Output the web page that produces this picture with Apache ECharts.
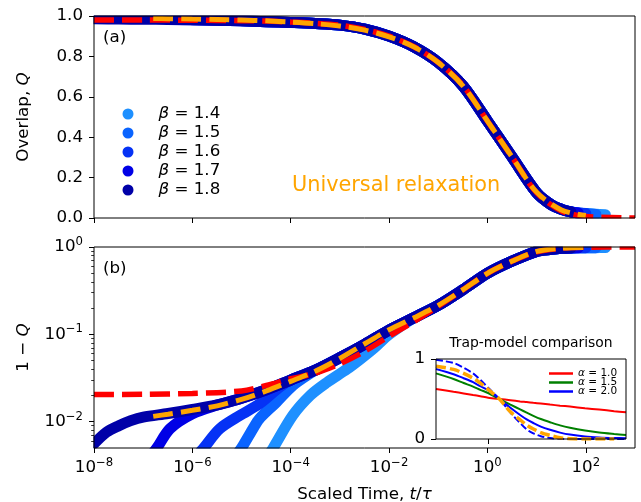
<!DOCTYPE html>
<html>
<head>
<meta charset="utf-8">
<script src="https://cdn.jsdelivr.net/npm/echarts@6/dist/echarts.min.js"></script>
<style>
  html, body { margin: 0; padding: 0; background: #fff; }
  #main { width: 641px; height: 502px; }
</style>
</head>
<body>
<div id="main"></div>
<script>
// ---- data ----
var betaNames = ['β = 1.4', 'β = 1.5', 'β = 1.6', 'β = 1.7', 'β = 1.8'];
var betaColors = ['#1e90ff', '#0a64ff', '#0532f5', '#0000e6', '#0000a8'];

// panel (a): overlap Q, all beta collapse onto one band
var tTop = [1e-8, 3.2e-8, 1e-7, 3.2e-7, 1e-6, 3.2e-6, 1e-5, 3.2e-5, 1e-4, 3.2e-4, 1e-3, 3.2e-3, 1e-2, 3.2e-2, 0.1, 0.32, 1, 3.2, 10, 20, 32, 50, 70, 100, 160, 250];
var qTop = [0.986, 0.985, 0.984, 0.983, 0.981, 0.979, 0.976, 0.972, 0.968, 0.963, 0.955, 0.935, 0.900, 0.847, 0.770, 0.653, 0.480, 0.300, 0.125, 0.065, 0.043, 0.030, 0.025, 0.022, 0.018, 0.016];
var topStart = [1e-4, 1e-5, 1e-6, 3.2e-7, 1e-8];
var betaEnd = [250, 160, 100, 70, 50]; // last time of each beta run

// red dashed reference
var tRed = [1e-8, 1e-7, 1e-6, 1e-5, 3.2e-5, 1e-4, 3.2e-4, 1e-3, 3.2e-3, 1e-2, 3.2e-2, 0.1, 0.32, 1, 3.2, 10, 32, 100, 1000];
var qRed = [0.980, 0.980, 0.979, 0.977, 0.975, 0.970, 0.964, 0.954, 0.933, 0.900, 0.848, 0.770, 0.655, 0.480, 0.300, 0.125, 0.035, 0.008, 0.0];
var redBot = [0.0205, 0.0206, 0.0211, 0.0225, 0.026, 0.031, 0.036, 0.046, 0.064, 0.095, 0.140, 0.210, 0.325, 0.500, 0.690, 0.880, 0.970, 0.995, 1.0];

// orange dashed universal curve
var tOrange = [1.6e-7, 3.2e-7, 1e-6, 3.2e-6, 1e-5, 3.2e-5, 1e-4, 3.2e-4, 1e-3, 3.2e-3, 1e-2, 3.2e-2, 0.1, 0.32, 1, 3.2, 10, 32, 100];
var qOrange = [0.988, 0.987, 0.985, 0.983, 0.980, 0.976, 0.970, 0.962, 0.950, 0.930, 0.897, 0.847, 0.770, 0.653, 0.480, 0.300, 0.128, 0.040, 0.012];
var orangeBot = [0.0115, 0.0122, 0.0135, 0.0152, 0.0180, 0.0225, 0.029, 0.038, 0.053, 0.078, 0.113, 0.155, 0.215, 0.325, 0.50, 0.69, 0.89, 0.97, 0.99];

// panel (b): 1 - Q, shared tail (beta = 1.8 from the start)
var tBot = [1e-8, 1.8e-8, 3.2e-8, 5.6e-8, 1e-7, 3.2e-7, 1e-6, 3.2e-6, 1e-5, 3.2e-5, 1e-4, 3.2e-4, 1e-3, 3.2e-3, 1e-2, 3.2e-2, 0.1, 0.32, 1, 3.2, 10, 20, 32, 50, 70, 100, 160, 250];
var mBot = [0.0056, 0.0076, 0.0090, 0.0103, 0.0113, 0.0124, 0.0138, 0.0156, 0.0186, 0.0232, 0.030, 0.039, 0.054, 0.077, 0.112, 0.155, 0.215, 0.325, 0.50, 0.69, 0.89, 0.94, 0.965, 0.975, 0.978, 0.98, 0.983, 0.985];

// early rising branches before each beta joins the tail
var riseT = [
  [3.6e-5, 4.4e-5, 1.1e-4, 2.5e-4, 5.4e-4, 1.4e-3, 2.6e-3, 5e-3, 1e-2],
  [8e-6, 1e-5, 1.7e-5, 2.3e-5, 5.1e-5, 1.1e-4, 2.5e-4],
  [1.3e-6, 1.7e-6, 3.6e-6, 9.3e-6, 2.3e-5, 6e-5],
  [1.5e-7, 1.9e-7, 3.5e-7, 1e-6, 3.2e-6],
  []
];
var riseV = [
  [0.0042, 0.005, 0.0118, 0.020, 0.028, 0.040, 0.052, 0.070, 0.100],
  [0.0042, 0.005, 0.0083, 0.0108, 0.0167, 0.026, 0.036],
  [0.0042, 0.005, 0.0083, 0.0118, 0.016, 0.025],
  [0.0042, 0.005, 0.0083, 0.0123, 0.0155],
  []
];

// inset: trap-model comparison
var insetX = [0.29, 0.44, 0.56, 0.7, 0.83, 1.0, 1.31, 1.7, 2.14, 2.5, 2.93, 3.5, 4.36, 5.53, 7.0, 10, 14, 20, 26.5];
var trapA10 = [0.625, 0.59, 0.57, 0.55, 0.535, 0.517, 0.5, 0.485, 0.47, 0.462, 0.453, 0.443, 0.43, 0.417, 0.405, 0.385, 0.368, 0.348, 0.333];
var trapA15 = [0.82, 0.75, 0.70, 0.655, 0.615, 0.575, 0.5, 0.43, 0.37, 0.33, 0.29, 0.25, 0.21, 0.17, 0.14, 0.105, 0.08, 0.062, 0.05];
var trapA20 = [0.875, 0.81, 0.76, 0.71, 0.66, 0.61, 0.5, 0.39, 0.30, 0.245, 0.20, 0.155, 0.115, 0.08, 0.055, 0.032, 0.02, 0.013, 0.01];
var gaussRef = [0.99, 0.95, 0.89, 0.82, 0.74, 0.64, 0.5, 0.33, 0.2, 0.12, 0.07, 0.035, 0.012, 0.003, 0, 0, 0, 0, 0];
var dataRef = [0.91, 0.87, 0.82, 0.76, 0.70, 0.62, 0.5, 0.34, 0.24, 0.175, 0.125, 0.08, 0.045, 0.015, 0.003, 0, 0, 0, null];
var alphaNames = ['α = 1.0', 'α = 1.5', 'α = 2.0'];

var xTicks = [1e-8, 1e-6, 1e-4, 1e-2, 1, 1e2];
var yTicksLog = [0.01, 0.1, 1];
var yMinorLog = [0.006, 0.007, 0.008, 0.009, 0.02, 0.03, 0.04, 0.05, 0.06, 0.07, 0.08, 0.09,
                 0.2, 0.3, 0.4, 0.5, 0.6, 0.7, 0.8, 0.9];

// ---- helpers ----
var FONT = 'DejaVu Sans';
var W = 641, H = 502;
var panelA = { x: 94, y: 16, w: 541, h: 202 };
var panelB = { x: 94, y: 247, w: 541, h: 201 };
var inset = { x: 436, y: 359, w: 190, h: 80 };

function zip(xs, ys) {
  var out = [];
  for (var i = 0; i < xs.length; i++) out.push([xs[i], ys[i]]);
  return out;
}
function powLabel(v) {
  var e = Math.round(Math.log10(v));
  return '{b|10}{s|' + String(e).replace('-', '\u2212') + '}';
}
var powRich = {
  b: { fontSize: 16.7, lineHeight: 22, fontFamily: FONT, color: '#000' },
  s: { fontSize: 11.7, lineHeight: 12, verticalAlign: 'top', fontFamily: FONT, color: '#000' }
};
var italicRich = { i: { fontStyle: 'italic', fontSize: 16.7, fontFamily: FONT, color: '#000' } };
var tick = { show: true, length: 5, lineStyle: { color: '#000', width: 1 } };

// white masks around the panels: echarts widens its clip box by half the line width
function mask(x, y, w, h) {
  return { type: 'rect', z: 8, silent: true, shape: { x: x, y: y, width: w, height: h }, style: { fill: '#fff' } };
}
function frame(p, z) {
  return { type: 'rect', z: z, silent: true, shape: { x: p.x, y: p.y, width: p.w, height: p.h },
           style: { fill: 'none', stroke: '#000', lineWidth: 1 } };
}

var series = [];
betaNames.forEach(function (name, b) {
  var top = zip(tTop, qTop).filter(function (p) { return p[0] >= topStart[b] && p[0] <= betaEnd[b]; });
  series.push({
    name: name, type: 'line', xAxisIndex: 0, yAxisIndex: 0, data: top,
    showSymbol: false, smooth: 0.3, color: betaColors[b],
    lineStyle: { width: 11, color: betaColors[b], cap: 'round', join: 'round' }
  });
  var early = zip(riseT[b], riseV[b]);
  var last = riseT[b].length ? riseT[b][riseT[b].length - 1] : 0;
  var tail = zip(tBot, mBot).filter(function (p) { return p[0] > last && p[0] <= betaEnd[b]; });
  series.push({
    name: name, type: 'line', xAxisIndex: 1, yAxisIndex: 1, data: early.concat(tail),
    showSymbol: false, smooth: 0.3, color: betaColors[b],
    lineStyle: { width: 11, color: betaColors[b], cap: 'round', join: 'round' }
  });
});
var redStyle = { width: 5.5, color: '#ff0000', type: [20, 8] };
var orangeStyle = { width: 5, color: '#ffa500', type: [20, 8] };
series.push(
  { name: 'fit', type: 'line', xAxisIndex: 0, yAxisIndex: 0, data: zip(tRed, qRed), showSymbol: false, smooth: 0.3, lineStyle: redStyle, z: 3 },
  { name: 'fit', type: 'line', xAxisIndex: 1, yAxisIndex: 1, data: zip(tRed, redBot), showSymbol: false, smooth: 0.3, lineStyle: redStyle, z: 3 },
  { name: 'universal', type: 'line', xAxisIndex: 0, yAxisIndex: 0, data: zip(tOrange, qOrange), showSymbol: false, smooth: 0.3, lineStyle: orangeStyle, z: 4 },
  { name: 'universal', type: 'line', xAxisIndex: 1, yAxisIndex: 1, data: zip(tOrange, orangeBot), showSymbol: false, smooth: 0.3, lineStyle: orangeStyle, z: 4 }
);
var insetColors = ['#ff0000', '#008000', '#0000ff'];
[trapA10, trapA15, trapA20].forEach(function (ys, k) {
  series.push({
    name: alphaNames[k], type: 'line', xAxisIndex: 2, yAxisIndex: 3, data: zip(insetX, ys),
    showSymbol: false, smooth: 0.3, color: insetColors[k], z: 12,
    lineStyle: { width: 2, color: insetColors[k] }
  });
});
series.push(
  { name: 'inset-gauss', type: 'line', xAxisIndex: 2, yAxisIndex: 3, data: zip(insetX, gaussRef), showSymbol: false, smooth: 0.3, z: 12,
    lineStyle: { width: 2, color: '#0000ff', type: [7, 3] } },
  { name: 'inset-data', type: 'line', xAxisIndex: 2, yAxisIndex: 3, data: zip(insetX, dataRef), showSymbol: false, smooth: 0.3, z: 12,
    lineStyle: { width: 3.5, color: '#ffa500', type: [10, 4] } }
);

var myChart = echarts.init(document.getElementById('main'), null, { renderer: 'canvas' });
var option = {
  animation: false,
  backgroundColor: '#fff',
  textStyle: { fontFamily: FONT },
  grid: [
    { left: panelA.x, top: panelA.y, width: panelA.w, height: panelA.h, show: false, outerBoundsMode: 'none' },
    { left: panelB.x, top: panelB.y, width: panelB.w, height: panelB.h, show: false, outerBoundsMode: 'none' },
    { left: inset.x, top: inset.y, width: inset.w, height: inset.h, show: true, borderWidth: 0, backgroundColor: '#fff', z: 10, outerBoundsMode: 'none' }
  ],
  xAxis: [
    { gridIndex: 0, type: 'log', min: 1e-8, max: 1e3, z: 10, axisLine: { show: false },
      axisTick: Object.assign({ customValues: xTicks }, tick), axisLabel: { show: false }, splitLine: { show: false } },
    { gridIndex: 1, type: 'log', min: 1e-8, max: 1e3, z: 10, axisLine: { show: false },
      axisTick: Object.assign({ customValues: xTicks }, tick),
      axisLabel: { customValues: xTicks, formatter: powLabel, rich: powRich, margin: 9 },
      splitLine: { show: false },
      name: 'Scaled Time, {i|t}/{i|τ}', nameLocation: 'middle', nameGap: 38,
      nameTextStyle: { fontSize: 16.7, color: '#000', fontFamily: FONT, rich: italicRich } },
    { gridIndex: 2, type: 'log', min: 0.29, max: 26.5, axisLine: { show: false }, z: 12,
      axisTick: Object.assign({ customValues: [1, 10] }, tick), axisLabel: { show: false }, splitLine: { show: false } }
  ],
  yAxis: [
    { gridIndex: 0, type: 'value', min: 0, max: 1, interval: 0.2, z: 10, axisLine: { show: false }, axisTick: tick,
      axisLabel: { fontSize: 16.7, color: '#000', margin: 11, formatter: function (v) { return v.toFixed(1); } },
      splitLine: { show: false },
      name: 'Overlap, {i|Q}', nameLocation: 'middle', nameGap: 62, nameRotate: 90,
      nameTextStyle: { fontSize: 16.7, color: '#000', fontFamily: FONT, rich: italicRich } },
    { gridIndex: 1, type: 'log', min: 0.005, max: 1, z: 10, axisLine: { show: false },
      axisTick: Object.assign({ customValues: yTicksLog }, tick),
      axisLabel: { customValues: yTicksLog, formatter: powLabel, rich: powRich, margin: 11 },
      splitLine: { show: false },
      name: '1 \u2212 {i|Q}', nameLocation: 'middle', nameGap: 62, nameRotate: 90,
      nameTextStyle: { fontSize: 16.7, color: '#000', fontFamily: FONT, rich: italicRich } },
    { gridIndex: 1, type: 'log', min: 0.005, max: 1, z: 10, position: 'left', axisLine: { show: false },
      axisTick: { show: true, customValues: yMinorLog, length: 2.8, lineStyle: { color: '#000', width: 0.8 } },
      axisLabel: { show: false }, splitLine: { show: false } },
    { gridIndex: 2, type: 'value', min: 0, max: 1, interval: 1, axisLine: { show: false }, axisTick: tick, z: 12,
      axisLabel: { fontSize: 16.7, color: '#000', margin: 11 }, splitLine: { show: false } }
  ],
  legend: [
    { data: betaNames.map(function (n) { return { name: n, icon: 'circle' }; }),
      orient: 'vertical', left: 122.5, top: 105.5, padding: 0, itemWidth: 11, itemHeight: 11, itemGap: 2,
      selectedMode: false,
      formatter: function (n) { return '{i|β}' + n.slice(1); },
      textStyle: { fontSize: 16.7, color: '#000', lineHeight: 14, padding: [0, 0, 0, 20], fontFamily: FONT,
        rich: { i: { fontStyle: 'italic', fontSize: 16.7, lineHeight: 14, fontFamily: FONT, color: '#000' } } } },
    { data: alphaNames.map(function (n) { return { name: n, icon: 'rect' }; }),
      orient: 'vertical', left: 549, top: 368, padding: 0, itemWidth: 24, itemHeight: 2.5, itemGap: -2,
      selectedMode: false, z: 14,
      formatter: function (n) { return '{i|α}' + n.slice(1); },
      textStyle: { fontSize: 10.5, color: '#000', lineHeight: 8, fontFamily: FONT,
        rich: { i: { fontStyle: 'italic', fontSize: 10.5, lineHeight: 8, fontFamily: FONT, color: '#000' } } } }
  ],
  graphic: [
    mask(0, 0, W, panelA.y - 0.5),
    mask(0, 0, panelA.x - 0.5, H),
    mask(panelA.x + panelA.w + 0.5, 0, W, H),
    mask(0, panelA.y + panelA.h + 0.5, W, panelB.y - panelA.y - panelA.h - 1),
    mask(0, panelB.y + panelB.h + 0.5, W, H),
    frame(panelA, 9),
    frame(panelB, 9),
    frame(inset, 13),
    { type: 'text', x: 103, y: 38, z: 20, style: { text: '(a)', font: '16.7px "DejaVu Sans"', fill: '#000', verticalAlign: 'middle' } },
    { type: 'text', x: 103, y: 269, z: 20, style: { text: '(b)', font: '16.7px "DejaVu Sans"', fill: '#000', verticalAlign: 'middle' } },
    { type: 'text', x: 292, y: 186, z: 20, style: { text: 'Universal relaxation', font: '20.8px "DejaVu Sans"', fill: '#ffa500', verticalAlign: 'middle' } },
    { type: 'text', x: 531, y: 343, z: 20, style: { text: 'Trap-model comparison', font: '13.9px "DejaVu Sans"', fill: '#000', align: 'center', verticalAlign: 'middle' } }
  ],
  series: series
};
myChart.setOption(option);
</script>
</body>
</html>
